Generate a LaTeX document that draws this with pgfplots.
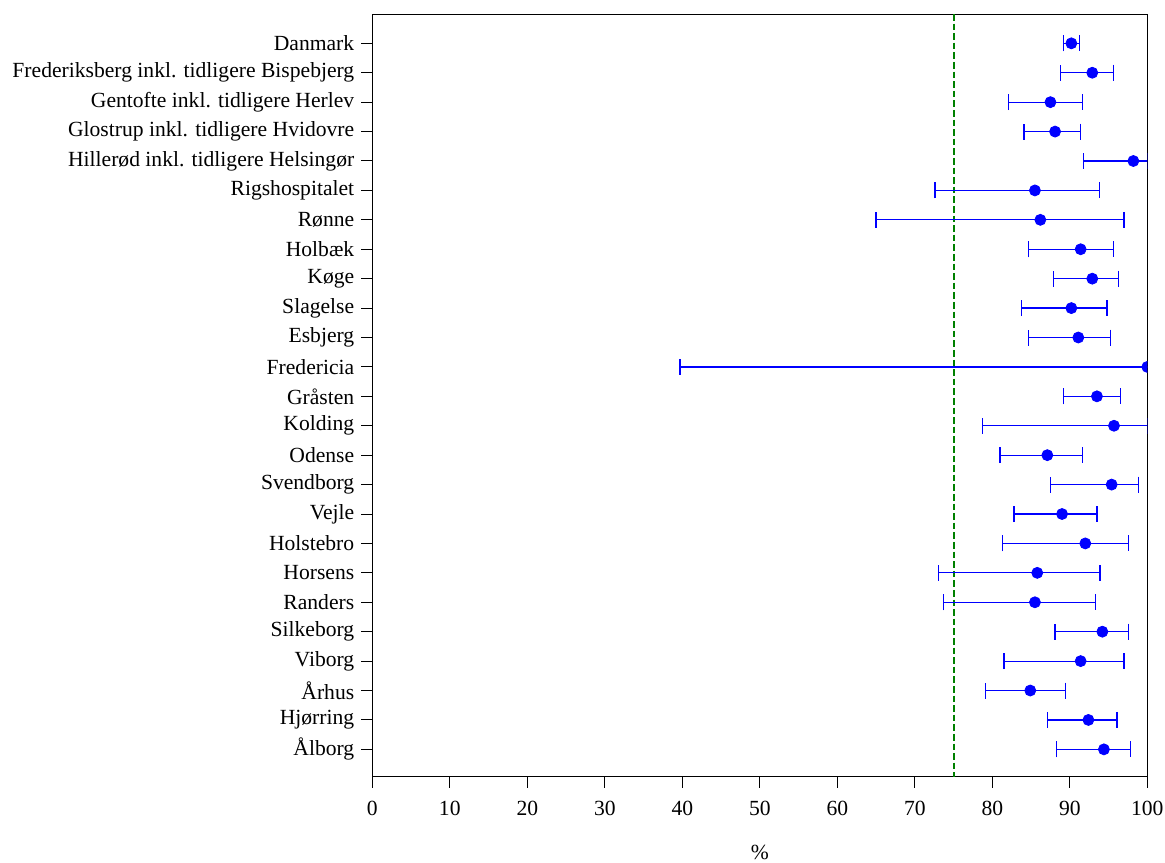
\documentclass[border=0pt]{standalone}
\usepackage{fontspec}
\setmainfont{Liberation Serif}
\usepackage{pgfplots}
\usepackage{pgfplotstable}
\pgfplotsset{compat=1.18}
\usetikzlibrary{calc}

\definecolor{ptblue}{RGB}{0,0,255}
\definecolor{refgreen}{RGB}{0,128,0}

% share with 95% confidence interval, per unit
\pgfplotstableread{
i  val   lo    hi
1  90.2  89.2  91.3
2  92.9  88.8  95.6
3  87.5  82.1  91.6
4  88.1  84.1  91.4
5  98.2  91.8  100
6  85.5  72.6  93.8
7  86.2  65.0  97.0
8  91.4  84.7  95.6
9  92.9  87.9  96.3
10 90.2  83.8  94.8
11 91.1  84.7  95.2
12 100   39.7  100
13 93.5  89.2  96.5
14 95.7  78.7  100
15 87.1  81.0  91.6
16 95.4  87.5  98.9
17 89.0  82.8  93.5
18 92.0  81.3  97.6
19 85.8  73.1  93.9
20 85.5  73.7  93.3
21 94.2  88.1  97.6
22 91.4  81.5  97.0
23 84.9  79.1  89.4
24 92.4  87.1  96.1
25 94.4  88.3  97.8
}\units

\begin{document}
\begin{tikzpicture}
\begin{axis}[
  scale only axis,
  width=387.5pt, height=381pt,
  xmin=0, xmax=100,
  ymin=0.027, ymax=25.93,
  y dir=reverse,
  xtick={0,10,...,100},
  ytick={1,...,25},
  yticklabels={Danmark,
    Frederiksberg inkl. tidligere Bispebjerg,
    Gentofte inkl. tidligere Herlev,
    Glostrup inkl. tidligere Hvidovre,
    Hillerød inkl. tidligere Helsingør,
    Rigshospitalet, Rønne, Holbæk, Køge, Slagelse, Esbjerg,
    Fredericia, Gråsten, Kolding, Odense, Svendborg, Vejle,
    Holstebro, Horsens, Randers, Silkeborg, Viborg, Århus,
    Hjørring, Ålborg},
  tick pos=left,
  tick align=outside,
  major tick length=5.5pt,
  tick style={black, line width=0.5pt},
  axis line style={black, line width=0.6pt},
  /pgf/number format/assume math mode=true,
  tick label style={font=\fontsize{10.8}{13}\selectfont},
  xticklabel style={yshift=-3.2pt},
  xlabel={\%},
  xlabel style={font=\fontsize{10.8}{13}\selectfont, yshift=-8pt},
  clip marker paths=true,
]
\coordinate (sw) at (rel axis cs:0,0);

% target level
\addplot[draw=refgreen, line width=1pt, dash pattern=on 3.3pt off 1.5pt, mark=none]
  coordinates {(75,0) (75,26)};

\addplot[
  only marks, mark=*, mark size=2.75pt,
  color=ptblue,
  error bars/.cd,
    x dir=both, x explicit,
    error bar style={ptblue, line width=0.6pt},
    error mark options={ptblue, line width=0.6pt, mark size=4pt, rotate=90},
] table[
  x=val, y=i,
  x error plus expr=\thisrow{hi}-\thisrow{val},
  x error minus expr=\thisrow{val}-\thisrow{lo},
] {\units};
\end{axis}
\pgfresetboundingbox
\path ($(sw)+(-186.15pt,-42.65pt)$) rectangle ($(sw)+(396.35pt,388.35pt)$);
\end{tikzpicture}
\end{document}
